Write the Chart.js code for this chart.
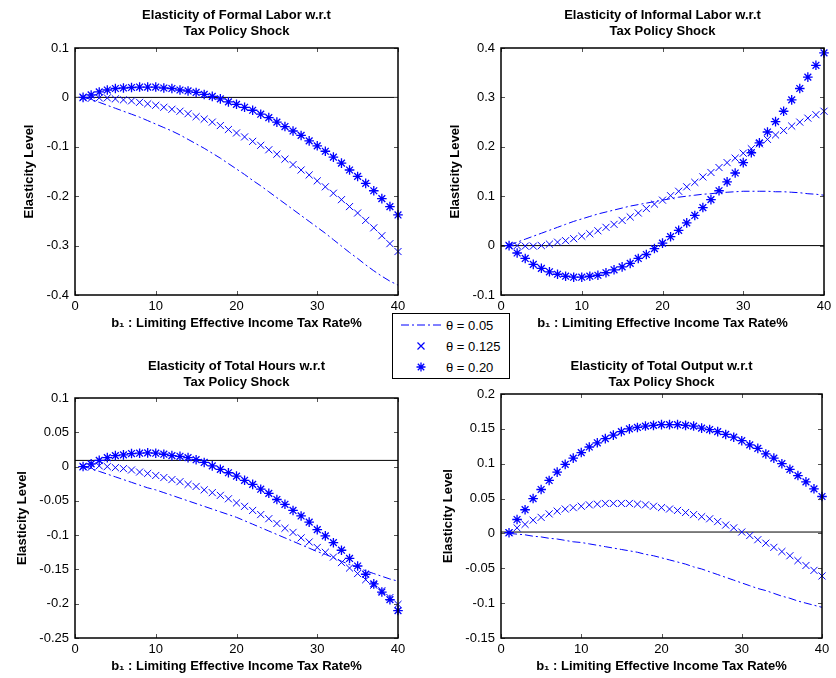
<!DOCTYPE html>
<html>
<head>
<meta charset="utf-8">
<script src="https://cdn.jsdelivr.net/npm/chart.js@4.4.1/dist/chart.umd.min.js"></script>
<style>
  body { margin: 0; background: #fff; }
  #wrap { position: relative; width: 836px; height: 678px; overflow: hidden; }
  .panel { position: absolute; }
  #legend {
    position: absolute; left: 392px; top: 313px; width: 116px; height: 64px;
    border: 1px solid #000; background: #fff;
    font: 13px "Liberation Sans", Arial, sans-serif; color: #000;
  }
  #legend .row { position: absolute; left: 0; height: 20px; width: 116px; }
  #legend svg { position: absolute; left: 6px; top: 0; }
  #legend span { position: absolute; left: 53px; top: 3px; }
</style>
</head>
<body>
<div id="wrap">
  <div class="panel" id="p0"><canvas id="c0"></canvas></div>
  <div class="panel" id="p1"><canvas id="c1"></canvas></div>
  <div class="panel" id="p2"><canvas id="c2"></canvas></div>
  <div class="panel" id="p3"><canvas id="c3"></canvas></div>
  <div id="legend">
    <div class="row" style="top:1px">
      <svg width="44" height="20"><line x1="2" y1="10" x2="42" y2="10" stroke="#0000ff" stroke-width="1" stroke-dasharray="8 3 2 3"/></svg>
      <span>θ = 0.05</span>
    </div>
    <div class="row" style="top:22px">
      <svg width="44" height="20"><path d="M18.5 6.5 L25.5 13.5 M25.5 6.5 L18.5 13.5" stroke="#0000ff" stroke-width="1.2"/></svg>
      <span>θ = 0.125</span>
    </div>
    <div class="row" style="top:43px">
      <svg width="44" height="20"><path d="M22 5.5 L22 14.5 M17.5 10 L26.5 10 M18.8 6.8 L25.2 13.2 M25.2 6.8 L18.8 13.2" stroke="#0000ff" stroke-width="1.3"/></svg>
      <span>θ = 0.20</span>
    </div>
  </div>
</div>
<script>
// b1 : limiting effective income tax rate (%)
const rate = [1, 2, 3, 4, 5, 6, 7, 8, 9, 10, 11, 12, 13, 14, 15, 16, 17, 18, 19, 20,
    21, 22, 23, 24, 25, 26, 27, 28, 29, 30, 31, 32, 33, 34, 35, 36, 37, 38, 39, 40];

// formal labor
const formal05 = [0, -0.004, -0.010, -0.016, -0.022, -0.028, -0.034, -0.040, -0.047, -0.054,
    -0.061, -0.068, -0.076, -0.085, -0.094, -0.103, -0.113, -0.123, -0.134, -0.145,
    -0.156, -0.168, -0.179, -0.191, -0.203, -0.215, -0.227, -0.239, -0.251, -0.263,
    -0.275, -0.288, -0.301, -0.314, -0.326, -0.339, -0.351, -0.362, -0.372, -0.380];
const formal125 = [0, -0.002, -0.001, -0.001, -0.003, -0.005, -0.007, -0.010, -0.013, -0.016,
    -0.020, -0.024, -0.028, -0.033, -0.039, -0.044, -0.050, -0.057, -0.065, -0.072,
    -0.080, -0.089, -0.097, -0.106, -0.115, -0.125, -0.136, -0.147, -0.157, -0.169,
    -0.181, -0.194, -0.207, -0.221, -0.234, -0.249, -0.264, -0.280, -0.296, -0.312];
const formal20 = [0, 0.005, 0.011, 0.015, 0.018, 0.019, 0.020, 0.021, 0.021, 0.021,
    0.019, 0.018, 0.015, 0.013, 0.010, 0.006, 0.002, -0.003, -0.009, -0.014,
    -0.020, -0.026, -0.034, -0.041, -0.050, -0.059, -0.068, -0.077, -0.088, -0.098,
    -0.109, -0.121, -0.133, -0.147, -0.160, -0.174, -0.189, -0.205, -0.221, -0.238];

// informal labor
const informal05 = [0, 0.007, 0.013, 0.019, 0.025, 0.031, 0.037, 0.043, 0.049, 0.054,
    0.059, 0.064, 0.068, 0.072, 0.076, 0.080, 0.083, 0.086, 0.089, 0.092,
    0.095, 0.098, 0.100, 0.102, 0.104, 0.105, 0.107, 0.108, 0.109, 0.110,
    0.110, 0.110, 0.110, 0.109, 0.109, 0.108, 0.107, 0.105, 0.104, 0.102];
const informal125 = [0, 0, -0.001, -0.001, 0, 0.003, 0.007, 0.010, 0.014, 0.019,
    0.024, 0.030, 0.037, 0.043, 0.051, 0.058, 0.066, 0.075, 0.084, 0.092,
    0.101, 0.110, 0.119, 0.128, 0.139, 0.148, 0.158, 0.168, 0.177, 0.187,
    0.196, 0.206, 0.215, 0.224, 0.233, 0.242, 0.250, 0.258, 0.265, 0.272];
const informal20 = [0, -0.015, -0.026, -0.038, -0.046, -0.053, -0.058, -0.062, -0.064, -0.064,
    -0.062, -0.060, -0.055, -0.049, -0.043, -0.036, -0.026, -0.018, -0.006, 0.005,
    0.018, 0.031, 0.046, 0.061, 0.077, 0.093, 0.111, 0.129, 0.147, 0.168,
    0.188, 0.208, 0.230, 0.251, 0.272, 0.295, 0.318, 0.341, 0.365, 0.390];

// total hours
const hours05 = [0, -0.003, -0.007, -0.011, -0.015, -0.019, -0.023, -0.027, -0.031, -0.034,
    -0.038, -0.042, -0.046, -0.050, -0.054, -0.058, -0.062, -0.066, -0.070, -0.074,
    -0.079, -0.084, -0.089, -0.094, -0.099, -0.104, -0.109, -0.114, -0.119, -0.124,
    -0.128, -0.133, -0.138, -0.143, -0.147, -0.152, -0.156, -0.160, -0.164, -0.167];
const hours125 = [0, -0.001, 0.001, 0, -0.0015, -0.003, -0.005, -0.008, -0.010, -0.013,
    -0.016, -0.019, -0.022, -0.026, -0.029, -0.034, -0.038, -0.042, -0.047, -0.053,
    -0.058, -0.064, -0.070, -0.076, -0.083, -0.090, -0.096, -0.104, -0.110, -0.118,
    -0.125, -0.132, -0.140, -0.148, -0.156, -0.165, -0.173, -0.181, -0.191, -0.201];
const hours20 = [0, 0.004, 0.009, 0.013, 0.016, 0.017, 0.019, 0.0195, 0.020, 0.0195,
    0.018, 0.016, 0.015, 0.013, 0.010, 0.006, 0.001, -0.004, -0.009, -0.014,
    -0.020, -0.026, -0.033, -0.039, -0.048, -0.055, -0.064, -0.072, -0.081, -0.092,
    -0.101, -0.111, -0.122, -0.134, -0.145, -0.157, -0.171, -0.183, -0.194, -0.210];

// total output
const output05 = [0, -0.001, -0.002, -0.004, -0.005, -0.007, -0.008, -0.010, -0.012, -0.013,
    -0.015, -0.017, -0.019, -0.021, -0.023, -0.025, -0.027, -0.030, -0.032, -0.035,
    -0.038, -0.041, -0.044, -0.048, -0.051, -0.055, -0.059, -0.063, -0.067, -0.071,
    -0.075, -0.079, -0.082, -0.086, -0.090, -0.093, -0.097, -0.100, -0.103, -0.106];
const output125 = [0.001, 0.008, 0.013, 0.019, 0.023, 0.028, 0.032, 0.035, 0.037, 0.039,
    0.041, 0.042, 0.043, 0.043, 0.043, 0.043, 0.042, 0.041, 0.039, 0.037,
    0.035, 0.033, 0.030, 0.027, 0.024, 0.021, 0.017, 0.012, 0.008, 0.002,
    -0.003, -0.009, -0.014, -0.020, -0.026, -0.032, -0.039, -0.046, -0.053, -0.061];
const output20 = [0.001, 0.020, 0.034, 0.050, 0.063, 0.076, 0.088, 0.099, 0.108, 0.116,
    0.124, 0.130, 0.136, 0.141, 0.146, 0.150, 0.152, 0.154, 0.155, 0.156,
    0.156, 0.156, 0.155, 0.154, 0.151, 0.149, 0.146, 0.142, 0.138, 0.133,
    0.127, 0.122, 0.114, 0.108, 0.100, 0.092, 0.083, 0.074, 0.064, 0.053];

// horizontal reference line in each panel
const zeroLevels = [0, 0, 0.009, 0.002];

const titles = [
    ["Elasticity of Formal Labor w.r.t", "Tax Policy Shock"],
    ["Elasticity of Informal Labor w.r.t", "Tax Policy Shock"],
    ["Elasticity of Total Hours w.r.t", "Tax Policy Shock"],
    ["Elasticity of Total Output w.r.t", "Tax Policy Shock"],
];
const series = [
    [formal05, formal125, formal20],
    [informal05, informal125, informal20],
    [hours05, hours125, hours20],
    [output05, output125, output20],
];
const yMins = [-0.4, -0.1, -0.25, -0.15];
const yMaxs = [0.1, 0.4, 0.1, 0.2];
const ySteps = [0.1, 0.1, 0.05, 0.05];
const xLabel = "b\u2081 : Limiting Effective Income Tax Rate%";
const yLabel = "Elasticity Level";

// page layout (px): canvas box, plot box [l, t, r, b], centre of first title line, centre of y title
const panels = [
    { left: 0, top: 0, width: 418, height: 335, plot: [75, 48, 398, 295], titleY: 15, yTitleX: 29 },
    { left: 418, top: 0, width: 418, height: 335, plot: [501, 48, 824, 295], titleY: 15, yTitleX: 455 },
    { left: 0, top: 340, width: 418, height: 338, plot: [75, 398, 398, 638], titleY: 366, yTitleX: 22 },
    { left: 418, top: 340, width: 418, height: 338, plot: [501, 394, 822, 638], titleY: 366, yTitleX: 448 },
];

const blue = "rgb(0, 0, 255)";
const FONT = '"Liberation Sans", Arial, sans-serif';
Chart.defaults.font.family = FONT;
Chart.defaults.color = "#000";

const titleFont = { size: 13, weight: "bold", lineHeight: 1.3 };
const axisFont = { size: 13, weight: "bold", lineHeight: 1.2 };
const tickFont = { size: 13, lineHeight: 1.2 };

const frame = {
    id: "frame",
    afterDatasetsDraw(chart) {
        const { ctx, chartArea: a, scales: { x, y } } = chart;
        ctx.save();
        ctx.strokeStyle = "#555";
        ctx.lineWidth = 1;
        ctx.beginPath();
        x.ticks.forEach(t => {
            const px = Math.round(x.getPixelForValue(t.value)) + 0.5;
            ctx.moveTo(px, a.bottom); ctx.lineTo(px, a.bottom - 4);
            ctx.moveTo(px, a.top); ctx.lineTo(px, a.top + 4);
        });
        y.ticks.forEach(t => {
            const py = Math.round(y.getPixelForValue(t.value)) + 0.5;
            ctx.moveTo(a.left, py); ctx.lineTo(a.left + 4, py);
            ctx.moveTo(a.right, py); ctx.lineTo(a.right - 4, py);
        });
        ctx.stroke();
        ctx.strokeStyle = "#000";
        ctx.lineWidth = 1.5;
        ctx.strokeRect(a.left, a.top, a.right - a.left, a.bottom - a.top);
        ctx.restore();
    }
};

function pts(values) {
    return values.map((v, i) => ({ x: rate[i], y: v }));
}

panels.forEach((p, k) => {
    const el = document.getElementById("p" + k);
    el.style.left = p.left + "px";
    el.style.top = p.top + "px";
    const canvas = document.getElementById("c" + k);
    canvas.width = p.width;
    canvas.height = p.height;

    const [pl, pt, pr, pb] = p.plot;
    const tLine = titleFont.size * titleFont.lineHeight;
    const titleTop = p.titleY - p.top - tLine / 2;
    const titleBottom = pt - p.top - titleTop - 2 * tLine;
    const aLine = axisFont.size * axisFont.lineHeight;
    const xTitleBottom = (p.top + p.height) - (pb + 28) - aLine / 2;
    const yTitleTop = p.yTitleX - p.left - aLine / 2;
    const yWidth = pl - p.left;
    const xHeight = p.top + p.height - pb;
    const [s05, s125, s20] = series[k];

    new Chart(canvas, {
        type: "line",
        data: {
            datasets: [{
                data: [{ x: 0, y: zeroLevels[k] }, { x: 40, y: zeroLevels[k] }],
                borderColor: "#000",
                borderWidth: 1,
                pointRadius: 0,
                order: 4,
            }, {
                label: "\u03b8 = 0.05",
                data: pts(s05),
                borderColor: blue,
                borderWidth: 1,
                borderDash: [8, 3, 2, 3],
                pointRadius: 0,
                order: 3,
            }, {
                label: "\u03b8 = 0.125",
                data: pts(s125),
                showLine: false,
                pointStyle: "crossRot",
                pointRadius: 5,
                pointBorderWidth: 1,
                pointBorderColor: blue,
                clip: false,
                order: 2,
            }, {
                label: "\u03b8 = 0.20",
                data: pts(s20),
                showLine: false,
                pointStyle: "star",
                pointRadius: 4.8,
                pointBorderWidth: 1.3,
                pointBorderColor: blue,
                clip: false,
                order: 1,
            }]
        },
        options: {
            responsive: false,
            animation: false,
            events: [],
            layout: { padding: { left: 0, top: 0, bottom: 0, right: p.left + p.width - pr } },
            plugins: {
                legend: { display: false },
                tooltip: { enabled: false },
                title: {
                    display: true,
                    fullSize: false,
                    text: titles[k],
                    font: titleFont,
                    color: "#000",
                    padding: { top: titleTop, bottom: titleBottom },
                },
            },
            scales: {
                x: {
                    type: "linear",
                    min: 0,
                    max: 40,
                    grid: { display: false, drawTicks: false },
                    border: { display: false },
                    ticks: { stepSize: 10, font: tickFont, color: "#000", padding: 4, maxRotation: 0 },
                    title: { display: true, text: xLabel, font: axisFont, color: "#000", padding: { top: 0, bottom: xTitleBottom } },
                    afterFit: scale => { scale.height = xHeight; },
                },
                y: {
                    min: yMins[k],
                    max: yMaxs[k],
                    grid: { display: false, drawTicks: false },
                    border: { display: false },
                    ticks: {
                        stepSize: ySteps[k],
                        font: tickFont,
                        color: "#000",
                        padding: 6,
                        callback: v => String(+v.toFixed(2)),
                    },
                    title: { display: true, text: yLabel, font: axisFont, color: "#000", padding: { top: yTitleTop, bottom: 0 } },
                    afterFit: scale => { scale.width = yWidth; },
                },
            },
        },
        plugins: [frame],
    });
});
</script>
</body>
</html>
